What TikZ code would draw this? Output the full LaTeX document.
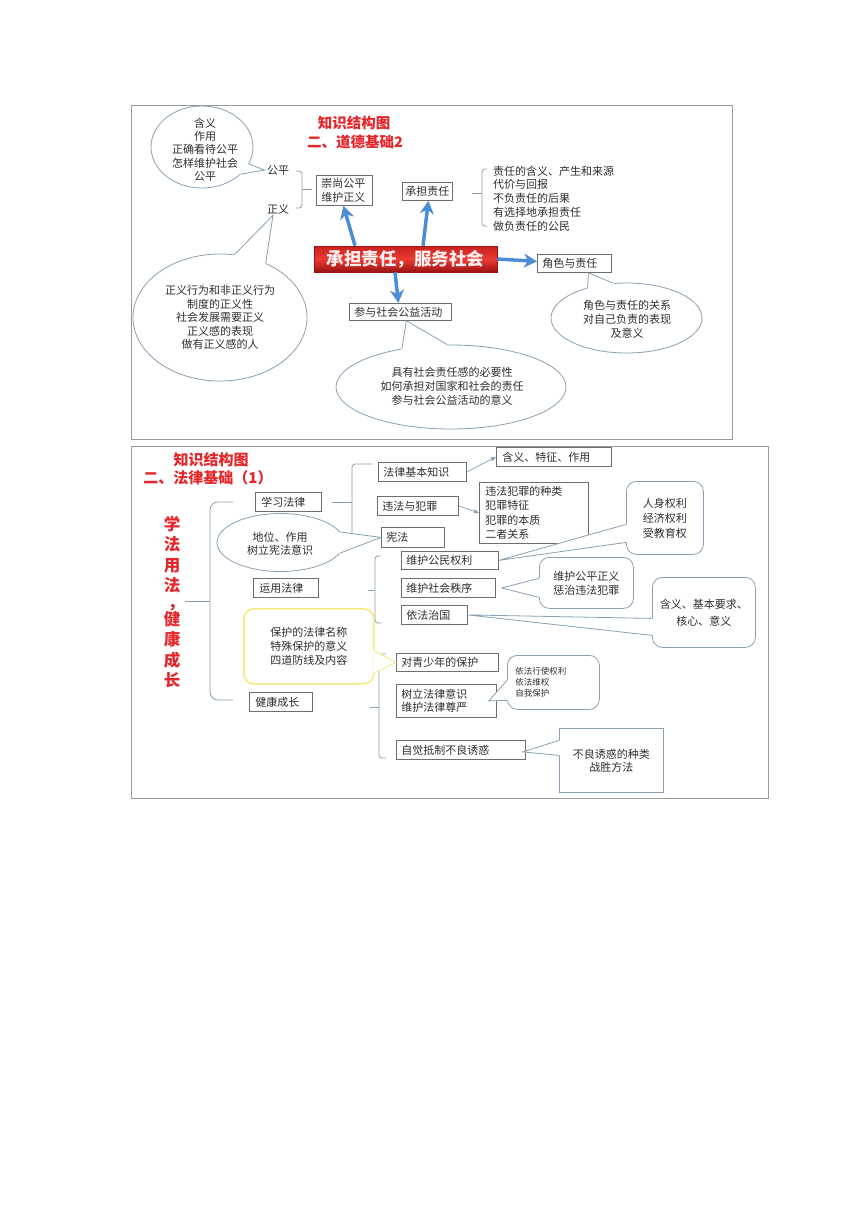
\documentclass[tikz,border=0pt]{standalone}
\usepackage{fontspec}
\setmainfont{Noto Sans CJK SC}
\usetikzlibrary{shapes.geometric,arrows.meta,calc}
\definecolor{txt}{HTML}{2E2E2E}
\definecolor{framec}{HTML}{9A9A9A}
\definecolor{boxgray}{HTML}{6E6E6E}
\definecolor{lnc}{HTML}{8AA0B2}
\definecolor{arrblue}{HTML}{4C8DD6}
\definecolor{ttlred}{HTML}{E5262B}
\definecolor{ylw}{HTML}{F5EA80}
\definecolor{bantop}{HTML}{C8221E}
\definecolor{banmid}{HTML}{EC3B33}
\definecolor{banbot}{HTML}{9A1212}
\newcommand\ctail[4][lnc]{%
  \fill[white] ($(#2)!-1.5pt!(#3)$) -- (#3) -- ($(#4)!-1.5pt!(#3)$) -- cycle;
  \draw[draw=#1, line width=0.8pt] (#2) -- (#3) -- (#4);}
\tikzset{
  tx/.style={text=txt, inner sep=1pt, align=center, font=\fontsize{11}{13.7}\selectfont},
  bx/.style={draw=boxgray, line width=0.8pt, inner xsep=5pt, inner ysep=0pt, text=txt,
    align=left, font=\fontsize{11}{13.7}\selectfont, anchor=north west},
  ell/.style={ellipse, draw=lnc, line width=0.8pt, fill=white, inner sep=0pt},
  rbx/.style={draw=lnc, line width=0.8pt, fill=white, rounded corners=10pt, inner sep=0pt,
    anchor=north west, text=txt, align=center},
  brc/.style={draw=lnc, line width=0.8pt, rounded corners=3pt},
  frm/.style={draw=framec, line width=1pt},
  ttl/.style={text=ttlred, font=\fontsize{14.5}{16}\selectfont\bfseries, inner sep=0pt},
  barrow/.style={draw=arrblue, line width=3.5pt, -{Stealth[length=13pt,width=14pt,inset=4pt]}},
  tarrow/.style={draw=lnc, line width=0.7pt, -{Triangle[length=5pt,width=4pt]}},
}
\begin{document}
\begin{tikzpicture}[x=1pt,y=-1pt]
\useasboundingbox (0,0) rectangle (860,1216);
\fill[white] (0,0) rectangle (860,1216);

%================ TOP PANEL ================
\draw[frm] (131,105) rectangle (732,439);
\node[ttl] (t1) at (354,123) {知识结构图};
\node[ttl] (t2) at (355,142) {二、道德基础2};

% bubble 1
\node[ell, minimum width=102pt, minimum height=82pt] (e1) at (202,147) {};
\node[tx] (gp) at (278,170) {公平};
\node[tx] (zy) at (278,209) {正义};
\coordinate (tip1) at ([xshift=-1pt]gp.west);
\ctail{e1.-20}{tip1}{e1.-35}
\node[tx, font=\fontsize{11}{13.3}\selectfont] (e1t) at (205,149.5) {含义\\作用\\正确看待公平\\怎样维护社会\\公平};

\draw[brc] (296,171) -- (302,171) -- (302,208) -- (296,208);
\draw[brc] (302,189) -- (312,189);

% boxes
\node[bx, text width=46pt, minimum height=30pt] (cs) at (316,175) {崇尚公平\\维护正义};
\node[bx, inner xsep=3pt, text width=44pt, minimum height=18pt] (cd) at (402,182) {承担责任};
\draw[brc] (487,169) -- (482,169) -- (482,226) -- (487,226);
\draw[brc] (482,193) -- (472,193);
\node[tx, anchor=west, align=left] (cdl) at (492,198.5) {责任的含义、产生和来源\\代价与回报\\不负责任的后果\\有选择地承担责任\\做负责任的公民};

\node[draw=banbot, line width=0.6pt, top color=bantop, bottom color=banbot, middle color=banmid,
  minimum width=183pt, minimum height=26pt, inner sep=0pt, text=white!94!red,
  font=\fontsize{17.5}{18}\selectfont\bfseries] (ban) at (405.5,259) {承担责任，服务社会};

\node[bx, text width=64pt, minimum height=18pt] (jz) at (537,254) {角色与责任};
\node[bx, text width=92pt, minimum height=17pt] (cy) at (349,303) {参与社会公益活动};

\draw[barrow] ([xshift=-50.5pt]ban.north) -- ([xshift=-1pt]cs.south);
\draw[barrow] ([xshift=17.5pt]ban.north) -- ([xshift=1pt]cd.south);
\draw[barrow] (ban.east) -- ([yshift=2pt]jz.west);
\draw[barrow] ([xshift=-10.5pt]ban.south) -- ([xshift=-2pt]cy.north);

% ellipse 2
\node[ell, minimum width=174pt, minimum height=127pt] (e2) at (220,317.5) {};
\coordinate (tip2) at ([xshift=-5pt]zy.south);
\ctail{e2.77}{tip2}{e2.50}
\node[tx, font=\fontsize{11}{13.5}\selectfont] (e2t) at (220,317.5) {正义行为和非正义行为\\制度的正义性\\社会发展需要正义\\正义感的表现\\做有正义感的人};

% ellipse 3
\node[ell, minimum width=230pt, minimum height=84pt] (e3) at (451,387) {};
\coordinate (tip3) at ([xshift=6pt]cy.south);
\ctail{e3.142}{tip3}{e3.95}
\node[tx, font=\fontsize{11}{14}\selectfont] (e3t) at (452,386) {具有社会责任感的必要性\\如何承担对国家和社会的责任\\参与社会公益活动的意义};

% ellipse 4
\node[ell, minimum width=151pt, minimum height=70pt] (e4) at (626.5,318) {};
\coordinate (tip4) at ([xshift=14pt]jz.south);
\ctail{e4.142}{tip4}{e4.111}
\node[tx, font=\fontsize{11}{14}\selectfont] (e4t) at (627,319.5) {角色与责任的关系\\对自己负责的表现\\及意义};

%================ BOTTOM PANEL ================
\draw[frm] (131,446) rectangle (768,798);
\node[ttl, font=\fontsize{15}{16}\selectfont\bfseries] (t3) at (211,460) {知识结构图};
\node[ttl, font=\fontsize{15}{16}\selectfont\bfseries] (t4) at (208,478) {二、法律基础（1）};
\node[anchor=north, inner sep=0pt, align=center, text=ttlred,
  font=\fontsize{16.5}{20.5}\selectfont\bfseries] (vt) at (172,516)
  {学\\法\\用\\法\\[-3.5pt]\hspace*{8pt}，\\[-4pt]健\\康\\成\\长};

\draw[brc, rounded corners=8pt] (233,502) -- (210,502) -- (210,700) -- (233,700);
\draw[brc, rounded corners=4pt] (210,601) -- (185,601);

% left column
\node[bx, inner xsep=6pt, text width=54pt, minimum height=19pt] (xx) at (255,492) {学习法律};
\node[bx, inner xsep=6pt, text width=53pt, minimum height=19pt] (yy) at (253,578) {运用法律};
\node[bx, inner xsep=6pt, text width=51pt, minimum height=19pt] (jk) at (249,692) {健康成长};

% brace for 学习法律
\draw[brc] (372,464) -- (352,464) -- (352,538) -- (372,538);
\draw[brc] (352,502) -- (332,502);
\node[bx, text width=78pt, minimum height=19pt] (fl) at (378,462) {法律基本知识};
\node[bx, text width=71pt, minimum height=19pt] (wf) at (377,496) {违法与犯罪};
\node[bx, text width=53pt, minimum height=20pt] (xf) at (381,527) {宪法};
\node[bx, inner xsep=6pt, text width=103pt, minimum height=19pt] (hy) at (496,447) {含义、特征、作用};
\node[bx, inner xsep=6pt, text width=97pt, minimum height=61pt, font=\fontsize{11}{14.3}\selectfont] (wz) at (479,482) {违法犯罪的种类\\犯罪特征\\犯罪的本质\\二者关系};
\draw[tarrow] (fl.east) -- (hy.west);
\draw[tarrow] (wf.east) -- (wz.west);

% ellipse 地位
\node[ell, minimum width=127pt, minimum height=58pt] (e5) at (280.5,542.5) {};
\ctail{e5.10}{xf.west}{e5.-10}
\node[tx, font=\fontsize{11}{13}\selectfont] (e5t) at (280,543.5) {地位、作用\\树立宪法意识};

% brace for 运用法律
\draw[brc] (381,556) -- (375,556) -- (375,623) -- (381,623);
\draw[brc] (375,590) -- (368,590);
\node[bx, text width=87pt, minimum height=18pt] (wq) at (401,551) {维护公民权利};
\node[bx, text width=84pt, minimum height=19pt] (wsh) at (401,578) {维护社会秩序};
\node[bx, text width=56pt, minimum height=19pt] (yf) at (401,605) {依法治国};

% brace for 健康成长
\draw[brc] (386,654) -- (379,654) -- (379,758) -- (386,758);
\draw[brc] (379,707) -- (370,707);

% yellow box
\node[rbx, draw=ylw, line width=1.6pt, minimum width=130pt, minimum height=75pt,
  font=\fontsize{11}{14}\selectfont] (yb) at (243,608) {保护的法律名称\\特殊保护的意义\\四道防线及内容};

% right callouts
\node[rbx, minimum width=77pt, minimum height=73pt, font=\fontsize{11}{15}\selectfont] (r1) at (626,481) {人身权利\\经济权利\\受教育权};
\node[rbx, minimum width=94pt, minimum height=51pt, font=\fontsize{11}{14}\selectfont] (r2) at (539,557) {维护公平正义\\惩治违法犯罪};
\node[rbx, minimum width=103pt, minimum height=70pt, font=\fontsize{11}{17}\selectfont] (r3) at (652,577) {含义、基本要求、\\核心、意义};
\node[rbx, minimum width=92pt, minimum height=54pt, inner xsep=8pt, text width=76pt, align=left,
  font=\fontsize{8.5}{11}\selectfont] (r4) at (507,655) {依法行使权利\\依法维权\\自我保护};
\node[rbx, rounded corners=0pt, minimum width=104pt, minimum height=64pt, font=\fontsize{11}{13}\selectfont] (r5) at (559,728) {不良诱惑的种类\\战胜方法};

% boxes of 健康成长
\node[bx, text width=92pt, minimum height=18pt] (qs) at (396,653) {对青少年的保护};
\node[bx, text width=90pt, minimum height=33pt] (sl) at (396,684) {树立法律意识\\维护法律尊严};
\node[bx, text width=119pt, minimum height=19pt] (zj) at (396,740) {自觉抵制不良诱惑};

% tails
\coordinate (ya) at ([yshift=-4.5pt]yb.east);
\coordinate (yb2) at ([yshift=-26.5pt]yb.east);
\ctail[ylw]{ya}{qs.west}{yb2}
\coordinate (r1a) at ([yshift=-6.5pt]r1.west);
\coordinate (r1b) at ([yshift=-24.5pt]r1.west);
\ctail{r1a}{wq.east}{r1b}
\coordinate (r2a) at ([yshift=4.5pt]r2.west);
\coordinate (r2b) at ([yshift=-14.5pt]r2.west);
\coordinate (r2t) at ([xshift=6pt]wsh.east);
\ctail{r2a}{r2t}{r2b}
\coordinate (r3a) at ([yshift=-6pt]r3.west);
\coordinate (r3b) at ([yshift=-23pt]r3.west);
\ctail{r3a}{yf.east}{r3b}
\coordinate (r4a) at ([yshift=2pt]r4.west);
\coordinate (r4b) at ([yshift=-18pt]r4.west);
\coordinate (r4t) at ([xshift=-8pt]sl.east);
\ctail{r4a}{r4t}{r4b}
\coordinate (r5a) at ([yshift=20pt]r5.west);
\coordinate (r5b) at ([yshift=5pt]r5.west);
\coordinate (r5t) at ([xshift=-3pt,yshift=-2pt]zj.east);
\ctail{r5a}{r5t}{r5b}
\end{tikzpicture}
\end{document}
